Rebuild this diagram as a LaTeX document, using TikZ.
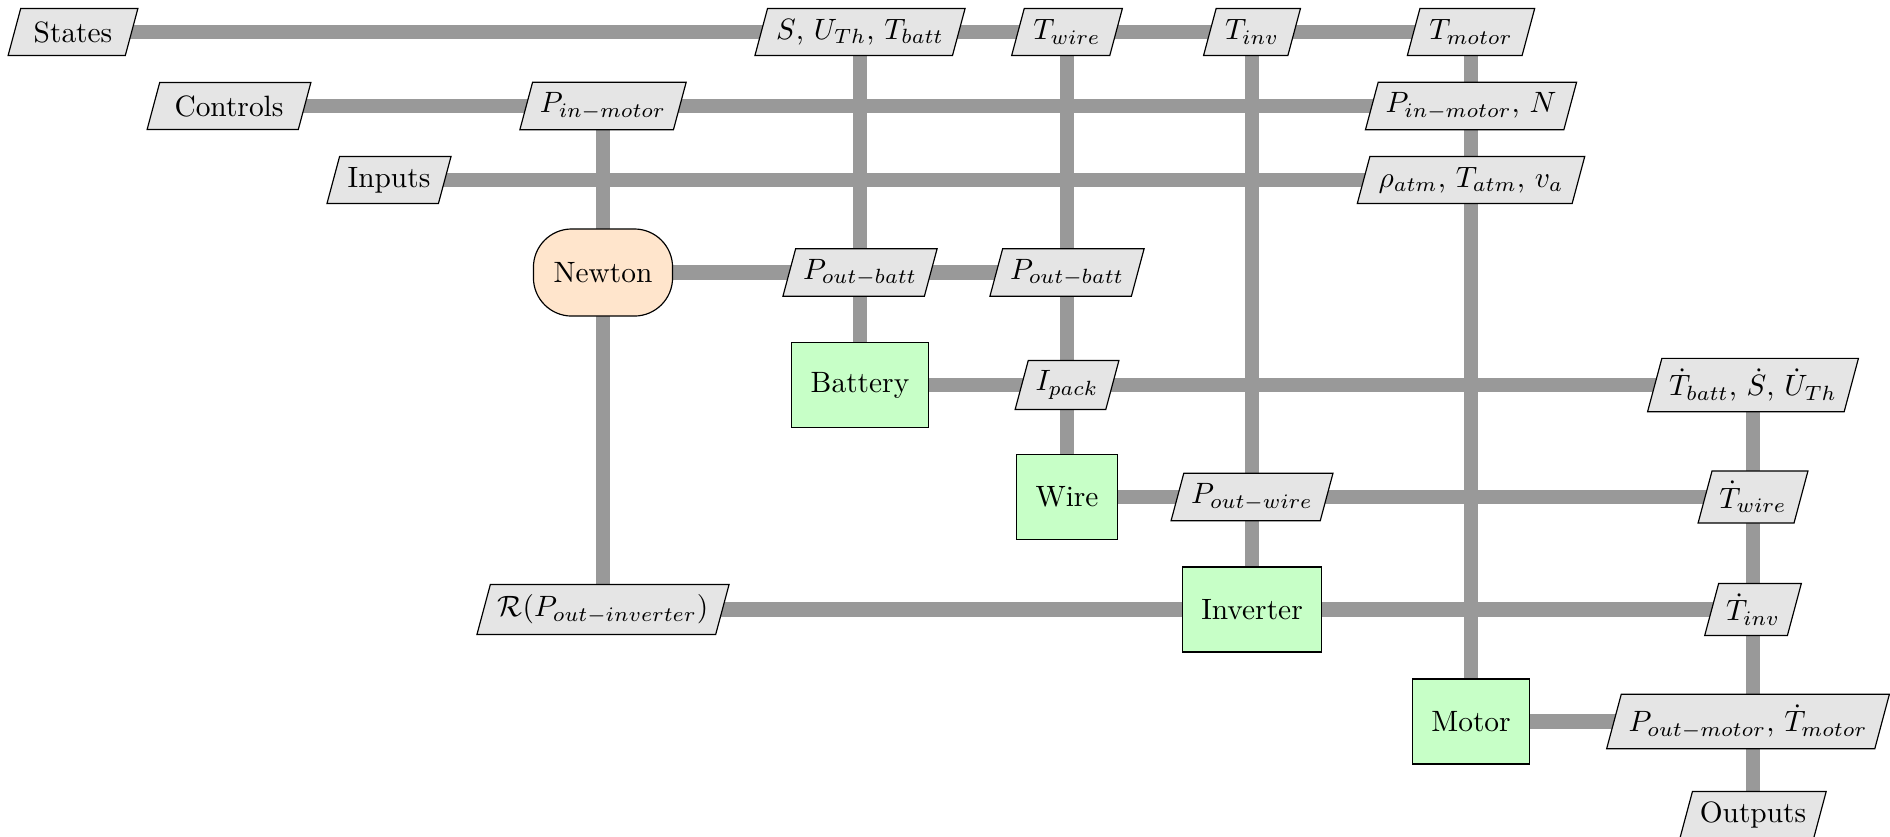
\documentclass[tikz,border=0pt]{standalone}
\usetikzlibrary{shapes.geometric}
\pgfdeclarelayer{bg}
\pgfsetlayers{bg,main}
\tikzset{
  dataio/.style={trapezium, trapezium left angle=75, trapezium right angle=105,
    draw=black, fill=black!10, inner xsep=2.5pt, inner ysep=3.5pt, minimum height=16pt, line width=0.4pt},
  func/.style={rectangle, draw=black, fill=green!22, inner xsep=6.5pt, minimum height=28.9pt, line width=0.4pt},
  solver/.style={rectangle, rounded corners=13pt, draw=black, fill=orange!20, minimum width=47.3pt, minimum height=29.6pt, line width=0.4pt},
  dline/.style={draw=black!40, line width=5pt}
}
\begin{document}
\begin{tikzpicture}[x=0.34pt, y=-0.34pt]
\useasboundingbox (0,0) rectangle (1890,836);
% row 0
\node[dataio] (states) at (73,32) {States};
\node[dataio] (sut) at (860,32) {$S$, $U_{Th}$, $T_{batt}$};
\node[dataio] (tw) at (1067,32) {$T_{wire}$};
\node[dataio] (ti) at (1252,32) {$T_{inv}$};
\node[dataio] (tm) at (1471,32) {$T_{motor}$};
% row 1
\node[dataio] (controls) at (229,106) {Controls};
\node[dataio] (pin) at (603,106) {$P_{in-motor}$};
\node[dataio] (pinN) at (1471,106) {$P_{in-motor}$, $N$};
% row 2
\node[dataio] (inputs) at (389,180) {Inputs};
\node[dataio] (rho) at (1471,180) {$\rho_{atm}$, $T_{atm}$, $v_a$};
% row 3
\node[solver] (newton) at (603,272.5) {Newton};
\node[dataio] (pob1) at (860,272.5) {$P_{out-batt}$};
\node[dataio] (pob2) at (1067,272.5) {$P_{out-batt}$};
% row 4
\node[func] (battery) at (860,385) {Battery};
\node[dataio] (ipack) at (1067,385) {$I_{pack}$};
\node[dataio] (tdb) at (1753,385) {$\dot{T}_{batt}$, $\dot{S}$, $\dot{U}_{Th}$};
% row 5
\node[func] (wire) at (1067,497) {Wire};
\node[dataio] (pow) at (1252,497) {$P_{out-wire}$};
\node[dataio] (tdw) at (1753,497) {$\dot{T}_{wire}$};
% row 6
\node[dataio] (rp) at (603,609.5) {$\mathcal{R}(P_{out-inverter})$};
\node[func] (inverter) at (1252,609.5) {Inverter};
\node[dataio] (tdi) at (1753,609.5) {$\dot{T}_{inv}$};
% row 7
\node[func] (motor) at (1471,721.5) {Motor};
\node[dataio] (pom) at (1748,721.5) {$P_{out-motor}$, $\dot{T}_{motor}$};
% row 8
\node[dataio] (outputs) at (1753,815) {Outputs};

\begin{pgfonlayer}{bg}
% horizontal
\draw[dline] (states.center) -- (sut.center);
\draw[dline] (sut.center) -- (tw.center);
\draw[dline] (tw.center) -- (ti.center);
\draw[dline] (ti.center) -- (tm.center);
\draw[dline] (controls.center) -- (pin.center);
\draw[dline] (pin.center) -- (pinN.center);
\draw[dline] (inputs.center) -- (rho.center);
\draw[dline] (newton.center) -- (pob1.center);
\draw[dline] (pob1.center) -- (pob2.center);
\draw[dline] (battery.center) -- (ipack.center);
\draw[dline] (ipack.center) -- (tdb.center);
\draw[dline] (wire.center) -- (pow.center);
\draw[dline] (pow.center) -- (tdw.center);
\draw[dline] (rp.center) -- (inverter.center);
\draw[dline] (inverter.center) -- (tdi.center);
\draw[dline] (motor.center) -- (pom.center);
% vertical
\draw[dline] (pin.center) -- (newton.center);
\draw[dline] (newton.center) -- (rp.center);
\draw[dline] (sut.center) -- (pob1.center);
\draw[dline] (pob1.center) -- (battery.center);
\draw[dline] (tw.center) -- (pob2.center);
\draw[dline] (pob2.center) -- (ipack.center);
\draw[dline] (ipack.center) -- (wire.center);
\draw[dline] (ti.center) -- (pow.center);
\draw[dline] (pow.center) -- (inverter.center);
\draw[dline] (tm.center) -- (pinN.center);
\draw[dline] (pinN.center) -- (rho.center);
\draw[dline] (rho.center) -- (motor.center);
\draw[dline] (tdb.center) -- (tdw.center);
\draw[dline] (tdw.center) -- (tdi.center);
\draw[dline] (tdi.center) -- (outputs.center);
\end{pgfonlayer}
\end{tikzpicture}
\end{document}
